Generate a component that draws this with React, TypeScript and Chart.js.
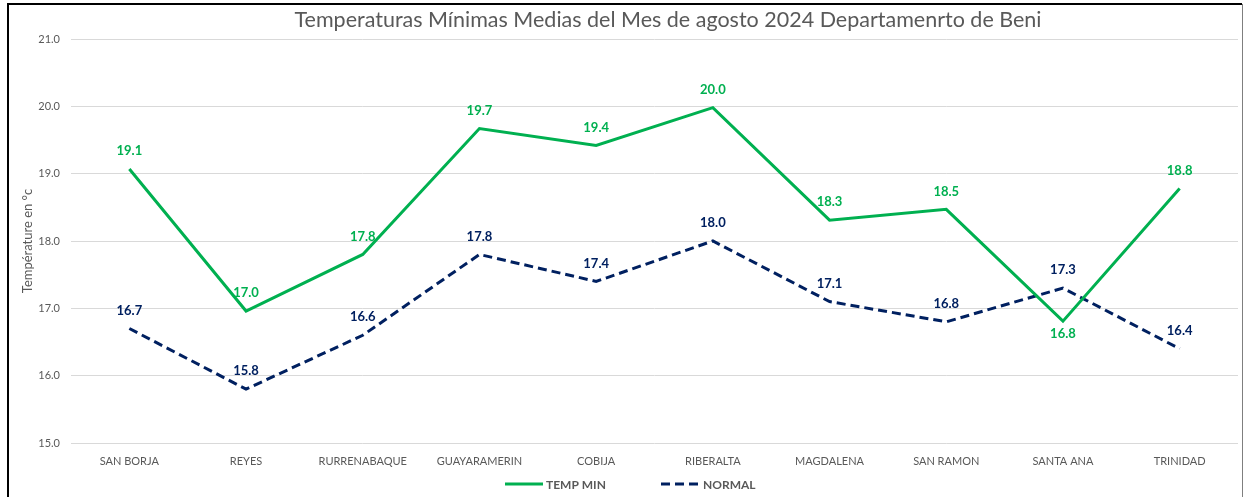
import React, { useEffect, useRef } from "react";
import { Chart, registerables } from "chart.js";

Chart.register(...registerables);

const categories = ["SAN BORJA", "REYES", "RURRENABAQUE", "GUAYARAMERIN", "COBIJA", "RIBERALTA", "MAGDALENA", "SAN RAMON", "SANTA ANA", "TRINIDAD"];
const tempMin = [19.07, 16.96, 17.8, 19.67, 19.42, 19.98, 18.31, 18.47, 16.81, 18.78];
const normal = [16.7, 15.8, 16.6, 17.8, 17.4, 18.0, 17.1, 16.8, 17.3, 16.4];
const titleText = "Temperaturas Mínimas Medias del Mes de agosto 2024 Departamenrto de Beni";
const yTitle = "Température en °c";
const seriesNames = ["TEMP MIN", "NORMAL"];

const GREEN = "#00B050";
const NAVY = "#002060";
const GRAY = "#595959";
const FONT = "Lato, 'Open Sans', sans-serif";

const decor = {
  id: "decor",
  afterDraw(chart: any) {
    const ctx = chart.ctx;
    ctx.save();
    // frame
    ctx.strokeStyle = "#000";
    ctx.lineWidth = 2;
    ctx.beginPath();
    ctx.moveTo(8, 497);
    ctx.lineTo(8, 4);
    ctx.lineTo(1242, 4);
    ctx.stroke();
    ctx.strokeStyle = "#7f7f7f";
    ctx.lineWidth = 1;
    ctx.beginPath();
    ctx.moveTo(1242.5, 4);
    ctx.lineTo(1242.5, 497);
    ctx.stroke();
    // title
    ctx.fillStyle = GRAY;
    ctx.font = `21.5px ${FONT}`;
    ctx.textAlign = "center";
    ctx.textBaseline = "middle";
    ctx.fillText(titleText, 668, 20);
    // data labels
    ctx.font = `bold 13px ${FONT}`;
    chart.data.datasets.forEach((ds: any, di: number) => {
      const meta = chart.getDatasetMeta(di);
      meta.data.forEach((pt: any, i: number) => {
        const v = ds.data[i];
        let dy = -18;
        if (di === 0 && v < normal[i]) dy = 13;
        ctx.fillStyle = ds.borderColor;
        ctx.fillText(v.toFixed(1), pt.x, pt.y + dy);
      });
    });
    // legend
    const ly = 484;
    ctx.lineWidth = 3;
    ctx.strokeStyle = GREEN;
    ctx.setLineDash([]);
    ctx.beginPath();
    ctx.moveTo(505, ly);
    ctx.lineTo(543, ly);
    ctx.stroke();
    ctx.strokeStyle = NAVY;
    ctx.setLineDash([9, 5]);
    ctx.beginPath();
    ctx.moveTo(661, ly);
    ctx.lineTo(699, ly);
    ctx.stroke();
    ctx.setLineDash([]);
    ctx.font = `bold 12px ${FONT}`;
    ctx.fillStyle = GRAY;
    ctx.textAlign = "left";
    ctx.fillText(seriesNames[0], 546, ly + 1);
    ctx.fillText(seriesNames[1], 703, ly + 1);
    ctx.restore();
  },
};

export default function App() {
  const ref = useRef<HTMLCanvasElement>(null);
  useEffect(() => {
    const chart = new Chart(ref.current!, {
      type: "line",
      data: {
        labels: categories,
        datasets: [
          { label: seriesNames[0], data: tempMin, borderColor: GREEN, backgroundColor: GREEN, borderWidth: 3, pointRadius: 0, tension: 0 },
          { label: seriesNames[1], data: normal, borderColor: NAVY, backgroundColor: NAVY, borderWidth: 3, borderDash: [9, 5], pointRadius: 0, tension: 0 },
        ],
      },
      options: {
        responsive: false,
        animation: false,
        layout: { padding: { top: 39, right: 6, bottom: 0, left: 0 } },
        plugins: { legend: { display: false }, title: { display: false }, tooltip: { enabled: false } },
        scales: {
          x: {
            offset: true,
            grid: { display: false, offset: true },
            border: { display: false },
            ticks: { color: GRAY, font: { family: FONT, size: 11 }, padding: 4, maxRotation: 0, autoSkip: false },
            afterFit: (s: any) => { s.height = 54; },
          },
          y: {
            min: 15,
            max: 21,
            grid: { color: "#d9d9d9", drawTicks: false },
            border: { display: false },
            ticks: { stepSize: 1, color: GRAY, padding: 11, font: { family: FONT, size: 11 }, callback: (v: any) => Number(v).toFixed(1) },
            title: { display: true, text: yTitle, color: GRAY, font: { family: FONT, size: 13 }, padding: { top: 20, bottom: 0 } },
            afterFit: (s: any) => { s.width = 71; },
          },
        },
      },
      plugins: [decor],
    });
    return () => chart.destroy();
  }, []);
  return (
    <div style={{ position: "fixed", left: 0, top: 0, width: 1244, height: 497, background: "#fff" }}>
      <canvas ref={ref} width={1244} height={497} style={{ width: 1244, height: 497 }} />
    </div>
  );
}
